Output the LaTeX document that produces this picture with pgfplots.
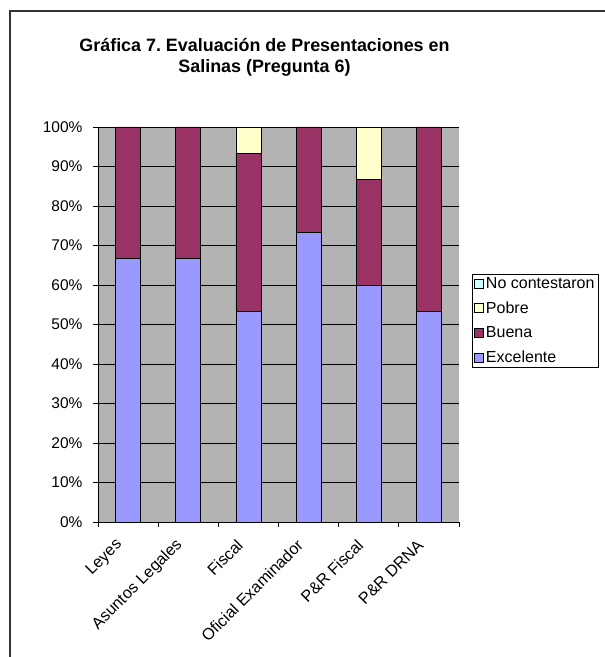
\documentclass[border=0pt]{standalone}
\usepackage{fontspec}
\setmainfont{Liberation Sans}
\usepackage{pgfplots}
\pgfplotsset{compat=1.18}

\definecolor{excelente}{HTML}{9999FF}
\definecolor{buena}{HTML}{993366}
\definecolor{pobre}{HTML}{FFFFCC}
\definecolor{nocont}{HTML}{CCFFFF}
\definecolor{plotgray}{HTML}{B3B3B3}

\begin{document}
\frenchspacing
\begin{tikzpicture}[x=1pt,y=1pt]
\useasboundingbox (0,0) rectangle (605,657);
% chart frame (cut off at the right and bottom)
\draw[line width=1.4pt, black!80] (10,-5) -- (10,646) -- (610,646);
\node[font=\fontsize{17.9}{21}\selectfont\bfseries, align=center] at (264.5,600)
  {Gráfica 7. Evaluación de Presentaciones en\\Salinas (Pregunta 6)};
\begin{axis}[
    at={(98pt,135pt)}, anchor=south west,
    scale only axis, width=361pt, height=395pt,
    ybar stacked, bar width=25pt,
    xmin=-0.5, xmax=5.5, ymin=0, ymax=100,
    axis lines*=left,
    axis line style={black, line width=0.8pt},
    axis background/.style={fill=plotgray},
    ymajorgrids, grid style={black, line width=0.8pt},
    ytick={0,10,...,100},
    yticklabel={\pgfmathprintnumber{\tick}\%},
    xtick={0,...,5},
    xticklabels={Leyes, Asuntos Legales, Fiscal, Oficial Examinador, P\&R Fiscal, P\&R DRNA},
    minor xtick={-0.5,0.5,...,5.5},
    tick align=outside,
    major tick length=5pt, minor tick length=5pt,
    every major x tick/.append style={draw=none},
    tick style={black, line width=0.8pt},
    /pgf/number format/assume math mode=true,
    yticklabel style={font=\fontsize{15.5}{18}\selectfont, xshift=-7pt},
    xticklabel style={font=\fontsize{16.2}{18}\selectfont,
      xshift=-6pt, yshift=-13pt, rotate=45, anchor=east},
    reverse legend,
    legend style={at={(1.036,0.628)}, anchor=north west, draw=black, line width=0.8pt,
      font=\fontsize{16}{18}\selectfont, row sep=7.8pt, inner xsep=2pt, inner ysep=1pt,
      cells={anchor=west}},
    legend image code/.code={\draw[#1, line width=0.6pt] (0pt,-4.5pt) rectangle (9pt,4.5pt);},
  ]
  \addplot[fill=excelente, draw=black, line width=0.8pt] coordinates
    {(0,66.7) (1,66.7) (2,53.3) (3,73.3) (4,60.0) (5,53.3)};
  \addlegendentry{Excelente}
  \addplot[fill=buena, draw=black, line width=0.8pt] coordinates
    {(0,33.3) (1,33.3) (2,40.0) (3,26.7) (4,26.7) (5,46.7)};
  \addlegendentry{Buena}
  \addplot[fill=pobre, draw=black, line width=0.8pt] coordinates
    {(0,0) (1,0) (2,6.7) (3,0) (4,13.3) (5,0)};
  \addlegendentry{Pobre}
  \addplot[fill=nocont, draw=black, line width=0.8pt] coordinates
    {(0,0) (1,0) (2,0) (3,0) (4,0) (5,0)};
  \addlegendentry{No contestaron}
\end{axis}
\end{tikzpicture}
\end{document}
